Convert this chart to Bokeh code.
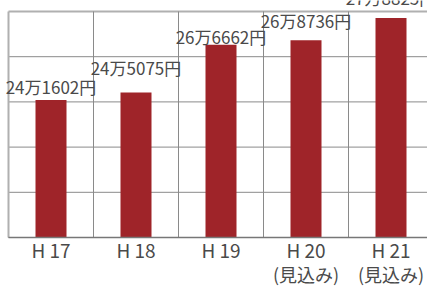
from bokeh.plotting import figure
from bokeh.models import Range1d, ColumnDataSource, LabelSet
from bokeh.core.properties import value
from bokeh.embed import file_html
from bokeh.resources import INLINE
import numpy as np

# data
years = ["H 17", "H 18", "H 19", "H 20", "H 21"]
notes = ["", "", "", "(見込み)", "(見込み)"]
values = [241602, 245075, 266662, 268736, 278825]
value_labels = ["24万1602円", "24万5075円", "26万6662円", "26万8736円", "27万8825円"]

# style / layout (pixels)
label_dy = [6, 17, 1, 12, 13]
BAR = "#9f2429"
GRID = "#8a8a8a"
EDGE = "#b0b0b0"
TEXT = "#4a4a4a"
FONT = value("Noto Sans CJK JP")
W, H = 427, 286
LEFT, TOP, BOTTOM, CAT = 8, 11, 237, 85

y0, ytop = 179200, 281800
n = len(years)
xs = list(range(n))
k = (BOTTOM - TOP) / (ytop - y0)
xr = Range1d(-0.5 - LEFT / CAT, -0.5 - LEFT / CAT + W / CAT)
yr = Range1d(y0 - (H - BOTTOM) / k, ytop + TOP / k)

p = figure(frame_width=W, frame_height=H, output_backend="svg", toolbar_location=None,
           x_range=xr, y_range=yr,
           min_border_left=0, min_border_right=0, min_border_top=0, min_border_bottom=0,
           margin=(0, 0, 0, 0))
p.outline_line_color = None
p.background_fill_color = "white"
p.border_fill_color = "white"
p.xaxis.visible = False
p.yaxis.visible = False
p.xgrid.visible = False
p.ygrid.visible = False

# grid
hy = list(np.linspace(y0, ytop, 6))
p.segment(x0=[-0.5] * 5, x1=[xr.end] * 5, y0=hy[:-1], y1=hy[:-1],
          line_color=GRID, line_width=1)
p.segment(x0=[-0.5], x1=[xr.end], y0=[ytop], y1=[ytop], line_color=EDGE, line_width=2)
vx = [i + 0.5 for i in range(n)]
p.segment(x0=vx, x1=vx, y0=[y0] * n, y1=[ytop] * n, line_color=GRID, line_width=1)
p.segment(x0=[-0.5], x1=[-0.5], y0=[y0], y1=[ytop], line_color=EDGE, line_width=2)

src = ColumnDataSource(dict(x=xs, top=values, lab=value_labels, dy=label_dy,
                            yr=years, note=notes, base=[y0] * n))
p.vbar(x="x", top="top", bottom=y0, width=31 / CAT, source=src,
       fill_color=BAR, line_color=None)
p.segment(x0=[-0.5], x1=[xr.end], y0=[y0], y1=[y0], line_color="#777777", line_width=1.5)

p.add_layout(LabelSet(x="x", y="top", text="lab", y_offset="dy", source=src,
                      text_align="center", text_baseline="alphabetic",
                      text_font=FONT, text_font_size="17px", text_color=TEXT))
p.add_layout(LabelSet(x="x", y="base", text="yr", y_offset=-20, source=src,
                      text_align="center", text_baseline="alphabetic",
                      text_font=FONT, text_font_size="19px", text_color=TEXT))
p.add_layout(LabelSet(x="x", y="base", text="note", y_offset=-44, source=src,
                      text_align="center", text_baseline="alphabetic",
                      text_font=FONT, text_font_size="18px", text_color=TEXT))

open("out.html", "w").write(file_html(p, INLINE))
